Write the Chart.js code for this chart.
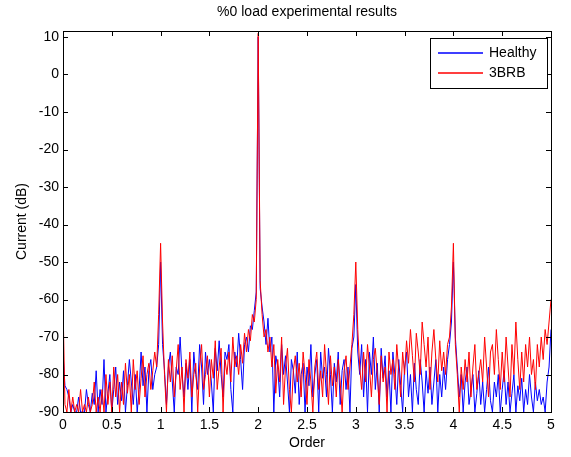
<!DOCTYPE html>
<html>
<head>
<meta charset="utf-8">
<script src="https://cdn.jsdelivr.net/npm/chart.js@4.4.1/dist/chart.umd.min.js"></script>
<style>
  html, body { margin: 0; padding: 0; background: #fff; }
</style>
</head>
<body>
<canvas id="spectrum" width="571" height="457"></canvas>
<script>
// harmonic order sampling (0 .. 5)
const orderStep = 0.02;

// Current (dB), healthy motor
const healthy = [
  -74, -83, -84, -86, -90, -88, -90, -90, -86, -90,
  -90, -90, -84, -88, -90, -85, -88, -79, -90, -84,
  -88, -76, -90, -85, -80, -90, -84, -78, -88, -82,
  -87, -79, -90, -83, -76, -82, -88, -80, -90, -84,
  -74, -83, -78, -90, -79, -76, -84, -80, -78, -72,
  -50, -72, -79, -88, -78, -74, -82, -90, -78, -80,
  -70, -80, -86, -77, -84, -76, -90, -74, -80, -84,
  -72, -78, -88, -74, -80, -76, -82, -90, -73, -79,
  -71, -80, -86, -74, -76, -72, -84, -90, -74, -78,
  -69, -76, -84, -72, -70, -74, -67, -68, -63, -58,
  10, -57, -62, -66, -72, -65, -74, -70, -90, -75,
  -78, -86, -72, -80, -75, -82, -90, -76, -79, -85,
  -74, -88, -80, -77, -90, -78, -83, -72, -86, -80,
  -76, -90, -74, -81, -78, -86, -73, -80, -90, -77,
  -82, -74, -88, -79, -76, -84, -78, -90, -73, -70,
  -56, -74, -80, -72, -86, -76, -90, -74, -80, -70,
  -84, -77, -90, -73, -81, -75, -86, -79, -90, -74,
  -80, -88, -76, -83, -90, -78, -74, -86, -80, -90,
  -77, -84, -88, -76, -82, -90, -79, -85, -78, -88,
  -82, -76, -90, -80, -86, -78, -84, -76, -72, -66,
  -50, -70, -78, -86, -80, -90, -82, -78, -88, -84,
  -80, -90, -85, -79, -88, -82, -90, -84, -78, -87,
  -90, -82, -86, -80, -90, -84, -79, -88, -82, -90,
  -85, -80, -90, -83, -87, -81, -90, -84, -88, -80,
  -86, -90, -82, -87, -84, -88, -86, -90, -82, -78,
  -68
];

// Current (dB), 3 broken rotor bars
const brb3 = [
  -61, -88, -90, -84, -90, -86, -90, -88, -90, -84,
  -90, -88, -90, -86, -90, -88, -82, -90, -86, -90,
  -84, -90, -80, -88, -82, -90, -78, -86, -80, -90,
  -82, -88, -77, -85, -80, -90, -76, -84, -79, -88,
  -81, -75, -86, -80, -77, -84, -79, -74, -78, -64,
  -45, -66, -80, -90, -76, -82, -75, -86, -79, -72,
  -84, -78, -90, -76, -81, -74, -86, -80, -77, -90,
  -78, -72, -84, -80, -75, -86, -76, -81, -71, -84,
  -78, -73, -90, -76, -80, -74, -82, -70, -78, -75,
  -80, -72, -77, -69, -74, -68, -71, -64, -66, -60,
  11, -55, -64, -70, -68, -74, -70, -78, -72, -85,
  -76, -82, -70, -88, -78, -73, -84, -90, -79, -75,
  -82, -77, -86, -74, -80, -88, -76, -82, -90, -78,
  -74, -84, -79, -86, -72, -80, -88, -75, -83, -78,
  -86, -76, -82, -90, -79, -75, -84, -78, -72, -64,
  -50, -68, -78, -84, -74, -82, -72, -78, -86, -76,
  -73, -80, -88, -75, -82, -78, -90, -74, -80, -76,
  -84, -72, -79, -86, -74, -80, -71, -77, -68, -75,
  -82, -69, -74, -80, -66, -72, -78, -70, -84, -74,
  -68, -76, -82, -71, -79, -74, -80, -72, -70, -62,
  -45, -72, -80, -90, -78, -84, -76, -82, -74, -86,
  -78, -72, -84, -80, -76, -82, -70, -78, -86, -74,
  -72, -80, -68, -76, -84, -74, -82, -70, -78, -86,
  -72, -80, -66, -76, -84, -74, -82, -72, -78, -70,
  -80, -76, -84, -72, -78, -70, -76, -68, -72, -66,
  -60
];

const seriesNames = ["Healthy", "3BRB"];
const seriesColors = ["#0000ff", "#ff0000"];
const xTicks = [0, 0.5, 1, 1.5, 2, 2.5, 3, 3.5, 4, 4.5, 5];
const yTicks = [-90, -80, -70, -60, -50, -40, -30, -20, -10, 0, 10];

const toPoints = (vals) => vals.map((v, i) => ({x: +(i * orderStep).toFixed(2), y: v}));

const font = {family: "Arial, 'Liberation Sans', sans-serif", size: 14};

// MATLAB style box with inward ticks, plus the legend inside the axes
const axesBox = {
    id: "axesBox",
    afterDatasetsDraw(chart) {
        const {ctx, chartArea: a, scales: {x, y}} = chart;
        ctx.save();
        ctx.strokeStyle = "#000";
        ctx.lineWidth = 1;
        ctx.beginPath();
        xTicks.forEach((t) => {
            const px = Math.round(x.getPixelForValue(t)) + 0.5;
            ctx.moveTo(px, a.bottom); ctx.lineTo(px, a.bottom - 5);
            ctx.moveTo(px, a.top); ctx.lineTo(px, a.top + 5);
        });
        yTicks.forEach((t) => {
            const py = Math.round(y.getPixelForValue(t)) + 0.5;
            ctx.moveTo(a.left, py); ctx.lineTo(a.left + 5, py);
            ctx.moveTo(a.right, py); ctx.lineTo(a.right - 5, py);
        });
        ctx.stroke();
        ctx.strokeRect(Math.round(a.left) + 0.5, Math.round(a.top) + 0.5,
            Math.round(a.right - a.left), Math.round(a.bottom - a.top));

        const bx = 430.5, by = 38.5, bw = 117, bh = 50;
        ctx.fillStyle = "#fff";
        ctx.fillRect(bx, by, bw, bh);
        ctx.strokeRect(bx, by, bw, bh);
        ctx.font = "14px Arial, 'Liberation Sans', sans-serif";
        ctx.textBaseline = "middle";
        ctx.textAlign = "left";
        seriesNames.forEach((name, i) => {
            const ly = 53 + i * 20;
            ctx.fillStyle = seriesColors[i];
            ctx.fillRect(438, ly - 0.75, 45, 1.5);
            ctx.fillStyle = "#000";
            ctx.fillText(name, 489, ly);
        });
        ctx.restore();
    }
};

new Chart(document.getElementById("spectrum"), {
    type: "line",
    data: {
        datasets: [
            {label: seriesNames[0], data: toPoints(healthy), borderColor: seriesColors[0], order: 1},
            {label: seriesNames[1], data: toPoints(brb3), borderColor: seriesColors[1], order: 0}
        ]
    },
    options: {
        responsive: false,
        animation: false,
        devicePixelRatio: 1,
        layout: {padding: {left: 0, right: 20, top: 0, bottom: 0}},
        elements: {
            line: {borderWidth: 1, tension: 0},
            point: {radius: 0}
        },
        plugins: {
            legend: {display: false},
            tooltip: {enabled: false},
            title: {
                display: true,
                fullSize: false,
                text: "%0 load experimental results",
                color: "#000",
                font: {...font, weight: "normal"},
                padding: {top: 4, bottom: 10.2}
            }
        },
        scales: {
            x: {
                type: "linear",
                min: 0,
                max: 5,
                afterBuildTicks: (s) => { s.ticks = xTicks.map((v) => ({value: v})); },
                afterFit: (s) => { s.height = 45; },
                ticks: {color: "#000", font: font, padding: 5, maxRotation: 0, callback: (v) => String(v)},
                grid: {display: false, drawTicks: false},
                border: {color: "#000"},
                title: {display: true, text: "Order", color: "#000", font: font, padding: {top: 0, bottom: 5.6}}
            },
            y: {
                min: -90,
                max: 11.6,
                afterBuildTicks: (s) => { s.ticks = yTicks.map((v) => ({value: v})); },
                afterFit: (s) => { s.width = 63; },
                ticks: {color: "#000", font: font, padding: 4, callback: (v) => String(v)},
                grid: {display: false, drawTicks: false},
                border: {color: "#000"},
                title: {display: true, text: "Current (dB)", color: "#000", font: font, padding: {top: 13.6, bottom: 0}}
            }
        }
    },
    plugins: [axesBox]
});
</script>
</body>
</html>
